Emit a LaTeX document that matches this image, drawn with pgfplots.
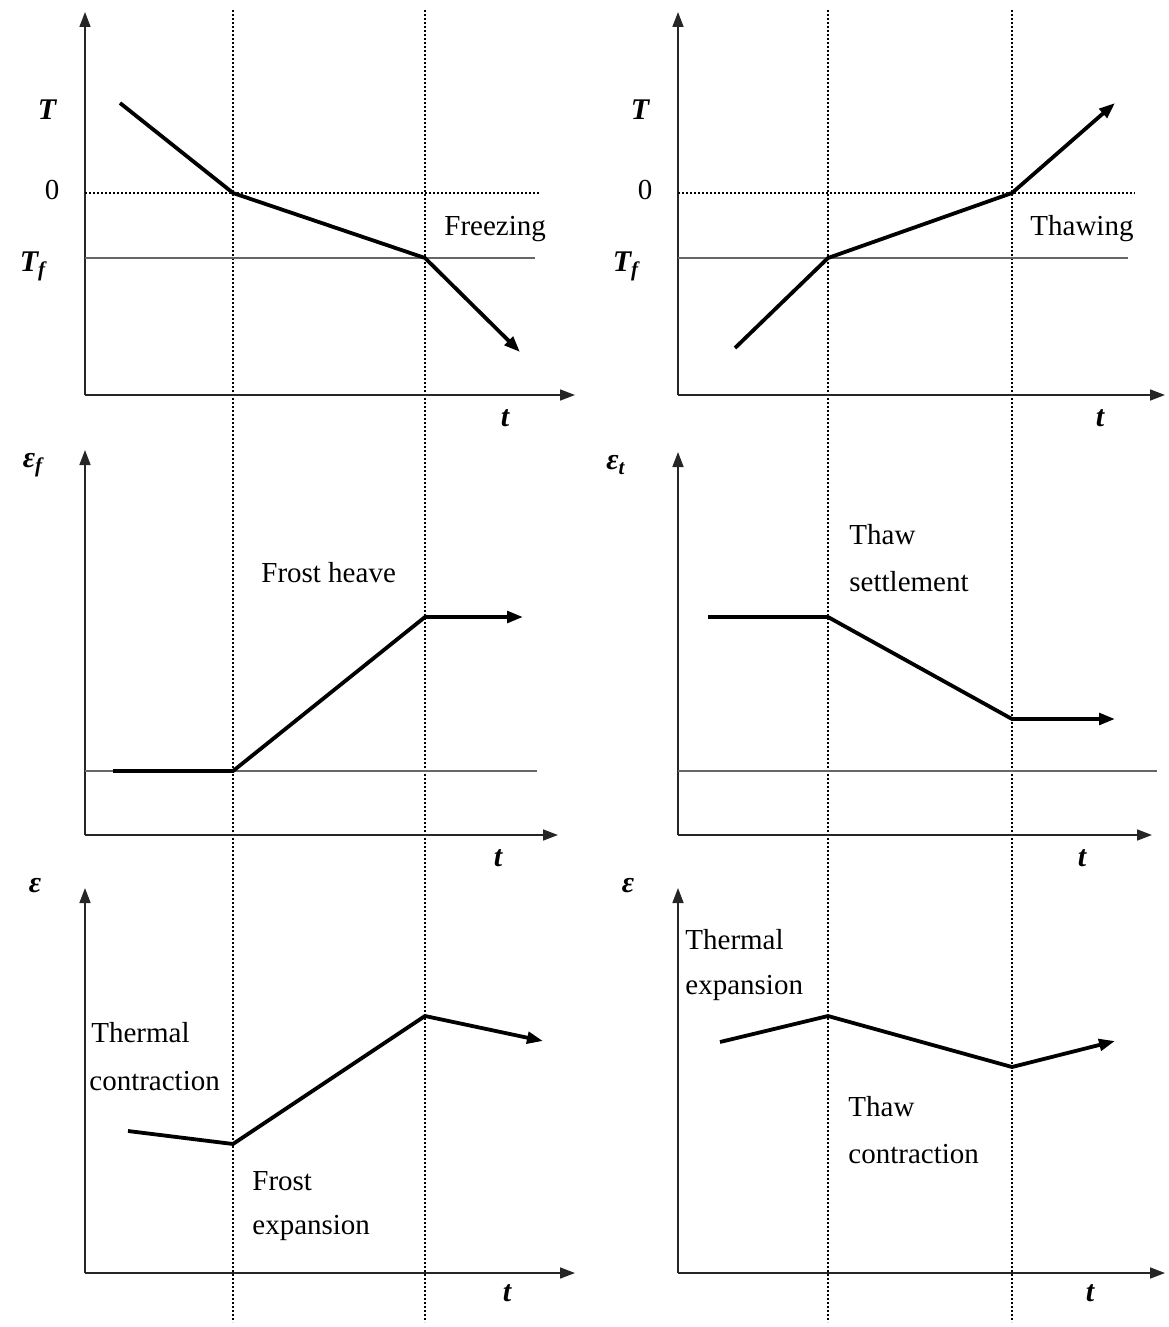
\documentclass[border=0pt]{standalone}
\usepackage{pgfplots}
\pgfplotsset{compat=1.18}
\usetikzlibrary{arrows.meta}
\usepackage{fontspec}
\setmainfont{Liberation Serif}

\tikzset{
  ax/.style={line width=0.8pt, black!85, -{Triangle[length=7.5pt,width=5.5pt]}},
  curve/.style={line width=1.9pt, black},
  curvearrow/.style={curve, -{Triangle[length=8pt,width=5.8pt]}},
  phase/.style={line width=0.9pt, black, dash pattern=on 0.9pt off 1.1pt},
  level/.style={line width=0.55pt, black!60},
  lbl/.style={font=\fontsize{14.5}{17.5}\selectfont, inner sep=0pt},
  sym/.style={font=\fontsize{15}{18}\selectfont\bfseries\itshape, inner sep=0pt},
}

\begin{document}
\begin{tikzpicture}
\begin{axis}[
  name=canvas,
  scale only axis, width=584.5pt, height=663.5pt,
  xmin=0, xmax=1169, ymin=0, ymax=1327, y dir=reverse,
  hide axis, tick=none, clip=false,
]
% ---------- phase boundaries shared by all panels ----------
\addplot[phase] coordinates {(233,10) (233,1322)};
\addplot[phase] coordinates {(425,10) (425,1322)};
\addplot[phase] coordinates {(828,10) (828,1322)};
\addplot[phase] coordinates {(1012,10) (1012,1322)};

% ================= left column: freezing =================
% temperature
\addplot[ax] coordinates {(85,395) (85,12)};
\addplot[ax] coordinates {(85,395) (575,395)};
\addplot[phase] coordinates {(85,193) (540,193)};
\addplot[level] coordinates {(85,258) (535,258)};
\addplot[curvearrow] coordinates {(120,103) (233,193) (425,258) (520,352)};
\node[sym] at (axis cs:47,110) {T};
\node[lbl] at (axis cs:52,190) {0};
\node[sym] at (axis cs:33,266) {T\textsubscript{f}};
\node[lbl, anchor=west] at (axis cs:444,229) {Freezing};
\node[sym] at (axis cs:505,418) {t};

% frost heave strain
\addplot[ax] coordinates {(85,835) (85,450)};
\addplot[ax] coordinates {(85,835) (558,835)};
\addplot[level] coordinates {(85,771) (537,771)};
\addplot[curvearrow] coordinates {(113,771) (233,771) (425,617) (523,617)};
\node[sym] at (axis cs:33,465) {ε\textsubscript{f}};
\node[lbl, anchor=west] at (axis cs:261,573) {Frost heave};
\node[sym] at (axis cs:498,858) {t};

% total strain
\addplot[ax] coordinates {(85,1273) (85,888)};
\addplot[ax] coordinates {(85,1273) (575,1273)};
\addplot[curvearrow] coordinates {(128,1131) (233,1144) (425,1016) (543,1041)};
\node[sym] at (axis cs:35,886) {ε};
\node[lbl, anchor=west] at (axis cs:91,1033) {Thermal};
\node[lbl, anchor=west] at (axis cs:89,1081) {contraction};
\node[lbl, anchor=west] at (axis cs:252,1181) {Frost};
\node[lbl, anchor=west] at (axis cs:252,1228) {expansion};
\node[sym] at (axis cs:507,1293) {t};

% ================= right column: thawing =================
% temperature
\addplot[ax] coordinates {(678,395) (678,12)};
\addplot[ax] coordinates {(678,395) (1165,395)};
\addplot[phase] coordinates {(678,193) (1135,193)};
\addplot[level] coordinates {(678,258) (1128,258)};
\addplot[curvearrow] coordinates {(735,348) (828,258) (1012,193) (1115,103)};
\node[sym] at (axis cs:640,110) {T};
\node[lbl] at (axis cs:645,190) {0};
\node[sym] at (axis cs:626,266) {T\textsubscript{f}};
\node[lbl, anchor=west] at (axis cs:1030,229) {Thawing};
\node[sym] at (axis cs:1100,418) {t};

% thaw settlement strain
\addplot[ax] coordinates {(678,835) (678,452)};
\addplot[ax] coordinates {(678,835) (1152,835)};
\addplot[level] coordinates {(678,771) (1157,771)};
\addplot[curvearrow] coordinates {(708,617) (828,617) (1012,719) (1115,719)};
\node[sym] at (axis cs:616,465) {ε\textsubscript{t}};
\node[lbl, anchor=west] at (axis cs:849,535) {Thaw};
\node[lbl, anchor=west] at (axis cs:849,582) {settlement};
\node[sym] at (axis cs:1082,858) {t};

% total strain
\addplot[ax] coordinates {(678,1273) (678,888)};
\addplot[ax] coordinates {(678,1273) (1165,1273)};
\addplot[curvearrow] coordinates {(720,1042) (828,1016) (1012,1067) (1115,1041)};
\node[sym] at (axis cs:628,886) {ε};
\node[lbl, anchor=west] at (axis cs:685,940) {Thermal};
\node[lbl, anchor=west] at (axis cs:685,988) {expansion};
\node[lbl, anchor=west] at (axis cs:848,1107) {Thaw};
\node[lbl, anchor=west] at (axis cs:848,1154) {contraction};
\node[sym] at (axis cs:1090,1293) {t};
\end{axis}
\pgfresetboundingbox
\useasboundingbox (canvas.south west) rectangle (canvas.north east);
\end{tikzpicture}
\end{document}
